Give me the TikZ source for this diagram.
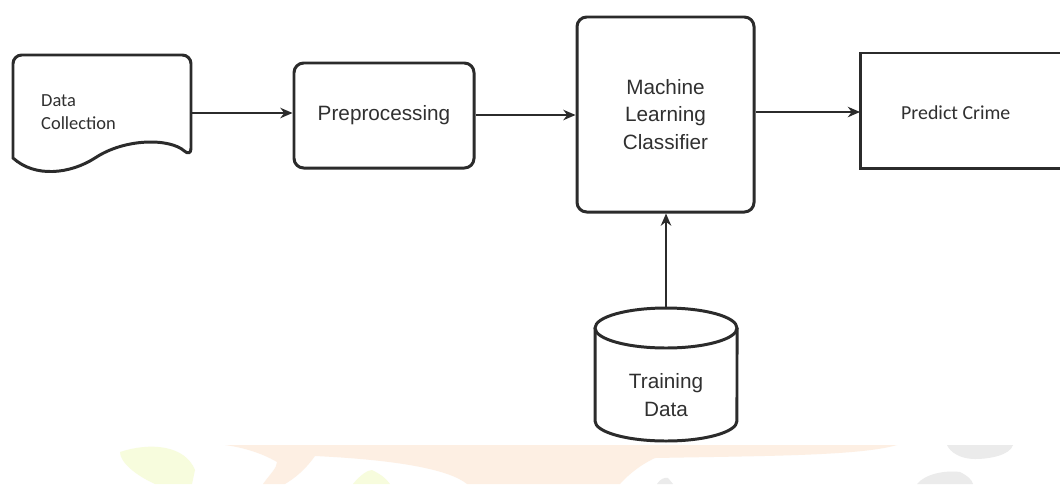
\documentclass[tikz,border=0pt]{standalone}
\usepackage{fontspec}
\setmainfont{Liberation Sans}
\newfontfamily\calfont{Carlito}
\usetikzlibrary{arrows.meta}
\definecolor{ink}{HTML}{2B2B2B}
\definecolor{txt}{HTML}{303030}
\definecolor{wmorange}{HTML}{FDEFE3}
\definecolor{wmgreen}{HTML}{F7FCDD}
\definecolor{wmgray}{HTML}{EBEBEB}
\tikzset{
  box/.style={draw=ink, line width=1.7pt, fill=white},
  rbox/.style={box, rounded corners=5.5pt},
  lbl/.style={text=txt, font=\fontsize{11.8pt}{15.5pt}\selectfont, align=center},
  clbl/.style={text=txt, font=\calfont\fontsize{10.5pt}{13.2pt}\selectfont, align=left},
  conn/.style={draw=ink, line width=0.85pt, -{Stealth[length=7pt,width=6pt]}}
}
\begin{document}
\begin{tikzpicture}[x=0.02cm, y=-0.02cm]
\useasboundingbox (0,0) rectangle (1060,484);
\fill[white] (0,0) rectangle (1060,484);
% watermark
\fill[wmorange] (225,445) -- (897,445) .. controls (860,456) and (760,456) .. (655,458)
  .. controls (640,465) and (628,475) .. (620,484) -- (467,484)
  .. controls (450,470) and (400,460) .. (315,456)
  .. controls (305,470) and (295,478) .. (285,484) -- (263,484)
  .. controls (270,474) and (277,468) .. (277,462)
  .. controls (260,452) and (240,447) .. (225,445) -- cycle;
\fill[wmgreen] (120,452) .. controls (150,442) and (185,445) .. (195,470)
  -- (192,484) -- (155,484) .. controls (135,475) and (120,462) .. (120,452) -- cycle;
\fill[wmgreen] (353,484) .. controls (360,475) and (368,470) .. (372,470)
  .. controls (380,474) and (386,478) .. (390,484) -- cycle;
\fill[wmgray] (947,445) -- (1013,445) .. controls (1010,455) and (990,459) .. (975,459)
  .. controls (960,459) and (950,452) .. (947,445) -- cycle;
\fill[wmgray] (917,484) .. controls (925,474) and (945,470) .. (960,472)
  .. controls (968,476) and (972,480) .. (973,484) -- cycle;
\fill[wmgray] (657,484) .. controls (660,479) and (665,477) .. (668,478) -- (673,484) -- cycle;

% Data Collection (document shape)
\coordinate (dcR) at (191,113);
\draw[box, rounded corners=5pt] (13,158) -- (13,55) -- (191,55) -- (191,157) [sharp corners]
  .. controls (170,138) and (125,138) .. (95,158)
  .. controls (70,174) and (35,178) .. (13,158) -- cycle;
\node[clbl, anchor=north west] (dc) at (35,88) {Data\\Collection};

% Preprocessing
\node[rbox, minimum width=180*0.02cm, minimum height=105*0.02cm, lbl] (pre) at (384,115.5) {Preprocessing};

% Machine Learning Classifier
\node[rbox, minimum width=177*0.02cm, minimum height=195*0.02cm, lbl] (ml) at (665.5,114.5) {Machine\\Learning\\Classifier};

% Predict Crime
\draw[box] (1075,53) -- (860,53) -- (860,168) -- (1075,168);
\coordinate (pcL) at (860,112);
\node[text=txt, font=\calfont\fontsize{11.3pt}{14pt}\selectfont, anchor=west] (pc) at (895,113) {Predict Crime};

% Training Data cylinder
\draw[box] (595,328) -- (595,421) arc[start angle=180, end angle=360, x radius=1.42cm, y radius=0.4cm] -- (737,328);
\draw[box] (666,328) ellipse [x radius=1.42cm, y radius=0.4cm];
\coordinate (tdTop) at (666,308);
\node[lbl] (td) at (666,395) {Training\\Data};

% connectors
\draw[conn] (dcR) -- (pre.west |- dcR);
\draw[conn] (pre.east |- 0,115) -- (ml.west |- 0,115);
\draw[conn] (ml.east |- pcL) -- (pcL);
\draw[conn] (tdTop) -- (ml.south -| tdTop);
\end{tikzpicture}
\end{document}
